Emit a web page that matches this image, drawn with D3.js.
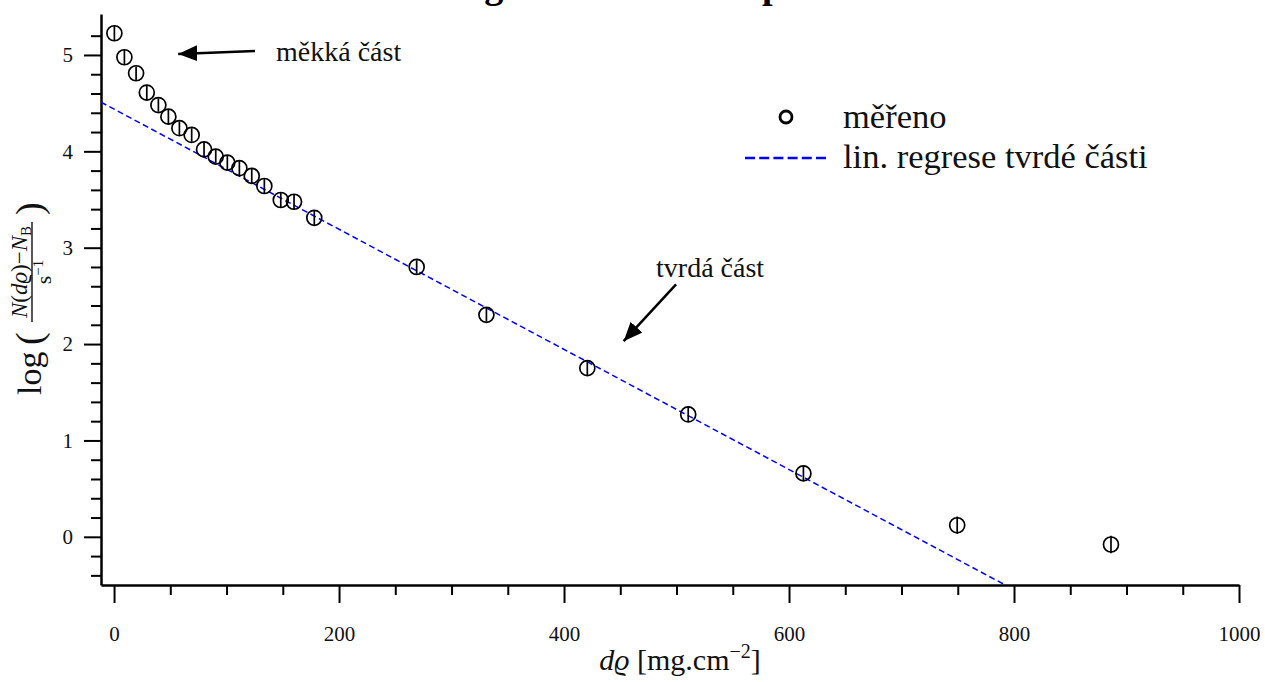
<!DOCTYPE html>
<html>
<head>
<meta charset="utf-8">
<script src="https://cdn.jsdelivr.net/npm/d3@7"></script>
<style>
  body { margin: 0; background: #fff; }
  svg text { font-family: "Liberation Serif", "DejaVu Serif", serif; }
</style>
</head>
<body>
<svg id="chart"></svg>
<script>
// measured points: d*rho [mg/cm2] and log count rate
var thickness = [0.3, 9.2, 19.6, 29.1, 39.4, 48.3, 58.1, 69.0, 80.0, 90.4, 100.7, 111.4, 122.4, 133.6, 148.2, 160.0, 178.0, 269.0, 331.0, 420.7, 510.4, 612.8, 749.5, 886.2];
var logRate   = [5.225, 4.976, 4.81, 4.61, 4.48, 4.36, 4.24, 4.17, 4.02, 3.945, 3.883, 3.825, 3.745, 3.64, 3.495, 3.477, 3.31, 2.80, 2.303, 1.75, 1.27, 0.658, 0.12, -0.08];
var logErr    = [0.08, 0.08, 0.07, 0.08, 0.07, 0.08, 0.07, 0.07, 0.08, 0.07, 0.08, 0.08, 0.08, 0.08, 0.08, 0.08, 0.08, 0.07, 0.07, 0.08, 0.08, 0.08, 0.09, 0.09];

// linear regression of the hard part: y = a + b*x
var regA = 4.438;
var regB = -0.006233;

var xMajor = [0, 200, 400, 600, 800, 1000];
var yMajor = [0, 1, 2, 3, 4, 5];

var FONT = '"Liberation Serif", "DejaVu Serif", serif';
var svgWidth = 1265, svgHeight = 682;
var svg = d3.select('#chart').attr('width', svgWidth).attr('height', svgHeight);

var x = d3.scaleLinear().domain([-11.6, 1000]).range([101, 1239]);
var y = d3.scaleLinear().domain([-0.5, 5.425]).range([585, 14]);

// title (mostly cut off at the top edge, as in the original)
svg.append('text')
   .attr('x', 440).attr('y', -2)
   .attr('font-family', FONT)
   .attr('font-size', 38).attr('font-weight', 'bold')
   .text('Logaritmická absorpční křivka');

// minor ticks
var xMinor = d3.range(50, 1000, 50).filter(function(d){ return d % 200 != 0; });
var yMinor = d3.range(-4, 53, 2).map(function(d){ return d / 10; }).filter(function(d){ return Math.abs(d - Math.round(d)) > 0.01; });

svg.append('g').attr('transform', 'translate(0,585)')
   .call(d3.axisBottom(x).tickValues(xMinor).tickSize(10).tickFormat(''))
   .call(function(g){ g.select('.domain').remove(); g.selectAll('line').attr('stroke-width', 2); });
svg.append('g').attr('transform', 'translate(101,0)')
   .call(d3.axisLeft(y).tickValues(yMinor).tickSize(10).tickFormat(''))
   .call(function(g){ g.select('.domain').remove(); g.selectAll('line').attr('stroke-width', 2); });

// major axes
var xAxis = svg.append('g').attr('transform', 'translate(0,585)')
   .call(d3.axisBottom(x).tickValues(xMajor).tickSize(18).tickSizeOuter(0).tickFormat(d3.format('d')));
xAxis.selectAll('text').attr('y', 56).attr('dy', 0).attr('font-size', 21)
     .attr('font-family', FONT).attr('fill', '#111');

var yAxis = svg.append('g').attr('transform', 'translate(101,0)')
   .call(d3.axisLeft(y).tickValues(yMajor).tickSize(17).tickSizeOuter(0).tickPadding(11).tickFormat(d3.format('d')));
yAxis.selectAll('text').attr('font-size', 21).attr('font-family', FONT).attr('fill', '#111');

[xAxis, yAxis].forEach(function(g){
  g.select('.domain').attr('stroke-width', 2.5);
  g.selectAll('line').attr('stroke-width', 2);
});

// clip for plot area
svg.append('clipPath').attr('id', 'plotclip')
   .append('rect').attr('x', 101).attr('y', 14).attr('width', 1239 - 101).attr('height', 585 - 14);

// regression line
var regLine = d3.line()
   .x(function(d){ return x(d); })
   .y(function(d){ return y(regA + regB * d); });
svg.append('path')
   .datum(x.domain())
   .attr('d', regLine)
   .attr('clip-path', 'url(#plotclip)')
   .attr('fill', 'none').attr('stroke', '#0000ff')
   .attr('stroke-width', 1.5).attr('stroke-dasharray', '6,3.5');

// data with error bars
var points = thickness.map(function(t, i){ return { x: t, y: logRate[i], e: logErr[i] }; });
var pts = svg.append('g').selectAll('g').data(points).enter().append('g');
pts.append('line')
   .attr('x1', function(d){ return x(d.x); }).attr('x2', function(d){ return x(d.x); })
   .attr('y1', function(d){ return y(d.y - d.e); }).attr('y2', function(d){ return y(d.y + d.e); })
   .attr('stroke', '#000').attr('stroke-width', 1.7);
pts.append('circle')
   .attr('cx', function(d){ return x(d.x); })
   .attr('cy', function(d){ return y(d.y); })
   .attr('r', 7.5)
   .attr('fill', 'none').attr('stroke', '#000').attr('stroke-width', 1.7);

// annotations (data coordinates)
var notes = [
  { text: 'měkká část', tx: 144, ty: 4.94, from: [125.3, 5.04], to: [57, 5.01] },
  { text: 'tvrdá část', tx: 481.8, ty: 2.70, from: [499.6, 2.62], to: [453, 2.03] }
];
svg.append('defs').append('marker')
   .attr('id', 'head').attr('markerUnits', 'userSpaceOnUse')
   .attr('markerWidth', 20).attr('markerHeight', 16)
   .attr('refX', 19).attr('refY', 8).attr('orient', 'auto')
   .append('path').attr('d', 'M0,0 L19,8 L0,16 Z').attr('fill', '#000');
notes.forEach(function(n){
  svg.append('line')
     .attr('x1', x(n.from[0])).attr('y1', y(n.from[1]))
     .attr('x2', x(n.to[0])).attr('y2', y(n.to[1]))
     .attr('stroke', '#000').attr('stroke-width', 2.5)
     .attr('marker-end', 'url(#head)');
  svg.append('text').attr('x', x(n.tx)).attr('y', y(n.ty))
     .attr('font-family', FONT)
     .attr('font-size', 28).attr('fill', '#111').text(n.text);
});

// legend
var legend = svg.append('g');
legend.append('circle').attr('cx', 786).attr('cy', 117).attr('r', 6)
      .attr('fill', 'none').attr('stroke', '#000').attr('stroke-width', 2.8);
legend.append('text').attr('x', 843).attr('y', 128).attr('font-family', FONT)
      .attr('font-size', 34.5).attr('fill', '#111').text('měřeno');
legend.append('line').attr('x1', 745).attr('x2', 826).attr('y1', 158).attr('y2', 158)
      .attr('stroke', '#0000ff').attr('stroke-width', 2.5).attr('stroke-dasharray', '10,4.2');
legend.append('text').attr('x', 843).attr('y', 168).attr('font-family', FONT)
      .attr('font-size', 34.5).attr('fill', '#111').text('lin. regrese tvrdé části');

// x label
var xl = svg.append('text').attr('x', 680).attr('y', 670).attr('text-anchor', 'middle')
   .attr('font-family', FONT).attr('font-size', 30).attr('fill', '#111');
xl.append('tspan').attr('font-style', 'italic').text('dϱ');
xl.append('tspan').text(' [mg.cm');
xl.append('tspan').attr('font-size', 20).attr('dy', -12).text('−2');
xl.append('tspan').attr('dy', 12).text(']');

// y label: log( (N(dϱ) − N_B) / s^-1 )
var yl = svg.append('g').attr('transform', 'translate(32,298) rotate(-90)').attr('fill', '#111');
yl.append('text').attr('x', -97).attr('y', 9).attr('font-family', FONT).attr('font-size', 34).text('log');
yl.append('text').attr('x', -47).attr('y', 10).attr('font-family', FONT).attr('font-size', 38).text('(');
var num = yl.append('text').attr('x', 26).attr('y', -5).attr('text-anchor', 'middle')
   .attr('font-family', FONT).attr('font-size', 23);
num.append('tspan').attr('font-style', 'italic').text('N');
num.append('tspan').text('(');
num.append('tspan').attr('font-style', 'italic').text('dϱ');
num.append('tspan').text(')−');
num.append('tspan').attr('font-style', 'italic').text('N');
num.append('tspan').attr('font-size', 15).attr('dy', 4).text('B');
yl.append('line').attr('x1', -24).attr('x2', 76).attr('y1', 0).attr('y2', 0)
  .attr('stroke', '#111').attr('stroke-width', 1.4);
var den = yl.append('text').attr('x', 26).attr('y', 19).attr('text-anchor', 'middle')
   .attr('font-family', FONT).attr('font-size', 22);
den.append('tspan').text('s');
den.append('tspan').attr('font-size', 15).attr('dy', -8).text('−1');
yl.append('text').attr('x', 83).attr('y', 10).attr('font-family', FONT).attr('font-size', 38).text(')');
</script>
</body>
</html>
